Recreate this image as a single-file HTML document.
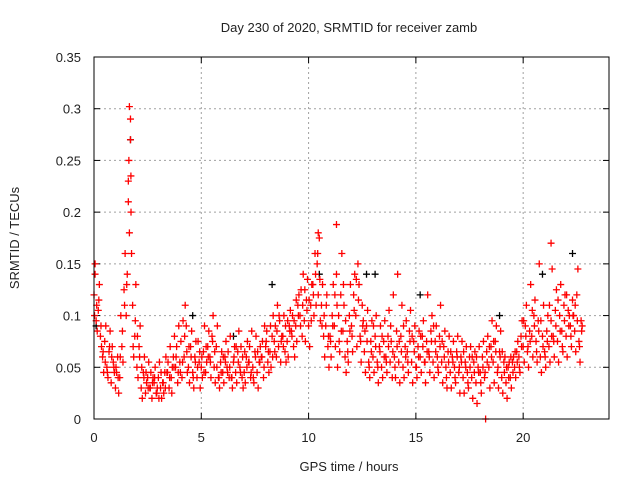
<!DOCTYPE html>
<html><head><meta charset="utf-8"><style>
body{margin:0;background:#fff}
svg text{font-family:"Liberation Sans",sans-serif;font-size:13px;fill:#222}
</style></head><body>
<svg id="chart" width="640" height="480" xmlns="http://www.w3.org/2000/svg">
<rect width="640" height="480" fill="#fff"/>
<text x="349" y="32" text-anchor="middle">Day 230 of 2020, SRMTID for receiver zamb</text>
<text x="349" y="471" text-anchor="middle">GPS time / hours</text>
<text x="19" y="238" text-anchor="middle" transform="rotate(-90 19 238)">SRMTID / TECUs</text>
<g id="grid"></g><g id="ticks"></g><g id="marks"></g>
<rect x="94" y="57" width="515" height="362" fill="none" stroke="#000" stroke-width="1"/>
</svg>
<script>
const xTicks=[0,5,10,15,20];
const yTicks=[0,0.05,0.1,0.15,0.2,0.25,0.3,0.35];
const yTickLabels=["0","0.05","0.1","0.15","0.2","0.25","0.3","0.35"];
const hours=[0.0,0.2,0.4,0.6,0.8,1.0,1.2,1.4,1.6,1.8,2.0,2.2,2.4,2.6,2.8,3.0,3.2,3.4,3.6,3.8,4.0,4.2,4.4,4.6,4.8,5.0,5.2,5.4,5.6,5.8,6.0,6.2,6.4,6.6,6.8,7.0,7.2,7.4,7.6,7.8,8.0,8.2,8.4,8.6,8.8,9.0,9.2,9.4,9.6,9.8,10.0,10.2,10.4,10.6,10.8,11.0,11.2,11.4,11.6,11.8,12.0,12.2,12.4,12.6,12.8,13.0,13.2,13.4,13.6,13.8,14.0,14.2,14.4,14.6,14.8,15.0,15.2,15.4,15.6,15.8,16.0,16.2,16.4,16.6,16.8,17.0,17.2,17.4,17.6,17.8,18.0,18.2,18.4,18.6,18.8,19.0,19.2,19.4,19.6,19.8,20.0,20.2,20.4,20.6,20.8,21.0,21.2,21.4,21.6,21.8,22.0,22.2,22.4,22.6];
const srmtidA=[120,105,60,50,35,30,40,125,230,110,50,30,25,30,35,40,35,45,40,50,55,60,50,45,40,50,45,60,50,40,45,50,40,45,50,45,55,50,45,60,70,65,75,70,80,75,85,90,100,95,90,130,150,110,90,80,90,100,85,75,90,100,80,65,55,60,55,50,60,55,60,55,50,65,55,50,60,55,65,55,60,55,50,45,50,45,40,45,40,35,45,40,50,55,45,40,35,40,50,60,70,65,80,75,60,65,70,80,75,85,80,90,85,75];
const srmtidB=[95,80,75,65,55,60,70,100,290,80,70,45,40,20,25,30,45,30,60,35,40,90,70,60,55,65,70,80,70,55,60,40,55,65,40,60,40,65,55,40,55,80,60,55,65,90,70,110,80,115,110,160,175,80,70,100,140,120,60,100,120,150,110,90,75,80,70,75,80,40,85,80,70,85,75,70,80,75,85,75,80,70,65,60,65,60,55,60,55,50,60,65,70,75,65,55,50,55,65,80,90,85,100,95,80,85,95,105,100,110,105,115,120,95];
const srmtidC=[150,130,45,40,70,45,100,160,180,60,40,20,35,45,50,55,25,55,50,70,75,110,35,30,75,40,55,40,35,30,35,65,30,35,70,35,70,35,30,75,85,50,90,95,100,60,100,75,125,75,70,100,120,130,120,60,70,65,110,55,65,70,55,45,40,45,35,40,45,75,40,35,40,45,35,40,45,35,45,40,45,35,30,30,35,25,25,30,20,15,25,0,30,35,30,25,20,30,40,45,55,50,60,55,45,50,55,60,55,65,60,70,65,55];
const srmtidD=[85,70,90,85,45,25,55,140,160,130,90,60,55,40,30,20,60,70,80,90,95,45,85,75,30,90,85,100,90,65,75,80,70,85,30,75,85,80,70,90,45,100,110,80,55,105,60,120,140,135,130,110,95,60,50,130,50,160,45,130,140,130,95,105,95,100,90,95,105,120,140,110,95,105,90,85,95,120,100,90,110,85,80,75,80,75,70,70,65,70,75,80,95,90,85,60,55,60,75,95,110,130,115,150,110,100,145,125,130,120,100,100,145,90];
const srmtidE=[110,90,55,70,50,40,85,130,200,95,60,40,30,35,25,45,30,40,50,45,55,65,60,55,65,45,60,75,50,45,55,50,60,55,60,50,45,60,55,50,65,60,85,75,90,85,95,100,110,105,95,140,135,100,80,90,110,85,95,85,105,115,90,75,65,70,65,60,70,65,70,65,60,75,65,60,70,65,75,65,70,60,55,55,60,55,50,50,45,45,50,55,60,65,60,45,40,45,55,70,80,75,90,85,70,75,80,90,85,95,90,100,95,85];
const srmtidF=[100,115,65,45,60,50,60,110,250,70,80,50,45,30,40,20,35,45,25,60,45,80,70,40,50,60,70,55,65,40,60,45,40,70,45,65,55,40,65,60,75,90,65,100,70,95,80,115,90,125,115,120,160,90,110,75,120,75,130,65,80,135,75,85,50,90,50,80,55,90,50,75,90,55,80,50,80,55,60,90,50,75,40,65,40,50,65,35,60,60,35,45,70,75,50,65,50,60,65,50,95,70,105,65,95,60,110,75,115,70,120,80,110,70];
const extraHours=[1.65,1.7,1.72,1.6,11.3,10.45,21.3,0.05];
const extraValues=[0.302,0.27,0.235,0.21,0.188,0.18,0.17,0.14];
const blackHours=[0.1,1.7,4.6,8.3,10.5,12.7,15.2,20.9,22.3,6.5,13.1,18.9];
const blackValues=[0.09,0.27,0.1,0.13,0.14,0.14,0.12,0.14,0.16,0.08,0.14,0.1];

const X0=94,X1=609,Y0=419,Y1=57,XMAX=24,YMAX=0.35;
const xs=h=>X0+h/XMAX*(X1-X0);
const ys=v=>Y0-v/YMAX*(Y0-Y1);
const NS="http://www.w3.org/2000/svg";
const grid=document.getElementById('grid'),ticks=document.getElementById('ticks'),marks=document.getElementById('marks');
function mk(tag,attrs,parent){const e=document.createElementNS(NS,tag);for(const k in attrs)e.setAttribute(k,attrs[k]);parent.appendChild(e);return e;}
xTicks.forEach(t=>{
  const x=xs(t);
  if(t>0){const g=mk('line',{x1:x,x2:x,y1:Y1,y2:Y0,stroke:'#a0a0a0','stroke-dasharray':'2,3'},grid);
  
  }
  mk('line',{x1:x,x2:x,y1:Y0,y2:Y0-6,stroke:'#000'},ticks);
  mk('line',{x1:x,x2:x,y1:Y1,y2:Y1+6,stroke:'#000'},ticks);
  const l=mk('text',{x:x,y:Y0+23,'text-anchor':'middle'},ticks);l.textContent=t;
  
  
});
yTicks.forEach((t,i)=>{
  const y=ys(t);
  if(t>0&&t<YMAX){const g=mk('line',{x1:X0,x2:X1,y1:y,y2:y,stroke:'#a0a0a0','stroke-dasharray':'2,3'},grid);
  
  }
  mk('line',{x1:X0,x2:X0+6,y1:y,y2:y,stroke:'#000'},ticks);
  mk('line',{x1:X1,x2:X1-6,y1:y,y2:y,stroke:'#000'},ticks);
  const l=mk('text',{x:81,y:y+5,'text-anchor':'end'},ticks);l.textContent=yTickLabels[i];
  
  
});
function plus(h,v,color){
  const x=xs(h),y=ys(v);
  const p=mk('path',{d:`M${x-3.5},${y}H${x+3.5}M${x},${y-3.5}V${y+3.5}`,stroke:color,'stroke-width':1.3,fill:'none'},marks);
  
  
}
blackHours.forEach((h,i)=>plus(h,blackValues[i],'#000'));
const seriesList=[srmtidA,srmtidB,srmtidC,srmtidD,srmtidE,srmtidF];
const jitter=[0,0.1,0.05,0.15,0.125,0.025];
seriesList.forEach((arr,k)=>{
  hours.forEach((h,i)=>{if(h+jitter[k]<=22.75)plus(h+jitter[k],arr[i]/1000,'#f00');});
});
extraHours.forEach((h,i)=>plus(h,extraValues[i],'#f00'));
</script>
</body></html>
